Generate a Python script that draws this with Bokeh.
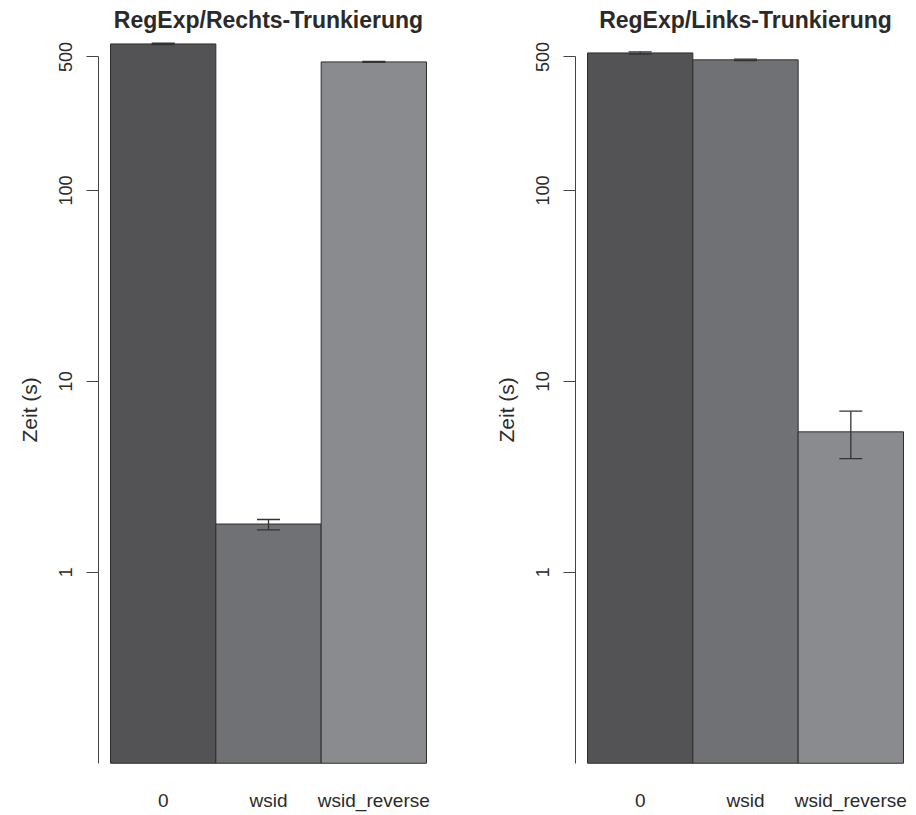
from bokeh.plotting import figure
from bokeh.layouts import row
from bokeh.models import (ColumnDataSource, FixedTicker, BasicTickFormatter,
                          Range1d, FactorRange, Whisker, TeeHead, Title)
from bokeh.embed import file_html
from bokeh.resources import INLINE

# Categories shared by both panels
categories = ["0", "wsid", "wsid_reverse"]

# Rechts-Trunkierung: mean time and error range (seconds)
rechts_mean = [585.0, 1.79, 471.0]
rechts_lower = [581.0, 1.67, 468.0]
rechts_upper = [590.0, 1.89, 474.0]

# Links-Trunkierung: mean time and error range (seconds)
links_mean = [525.0, 483.0, 5.44]
links_lower = [518.0, 479.0, 3.94]
links_upper = [532.0, 487.0, 6.99]

y_ticks = [1, 10, 100, 500]
y_label = "Zeit (s)"

bar_colors = ["#535355", "#707174", "#8a8b8e"]
FONT = "Liberation Sans"
TEXT = "#2a2a2a"


def panel(title, means, lower, upper, width, border_right):
    src = ColumnDataSource(dict(cat=categories, mean=means, lower=lower,
                                upper=upper, color=bar_colors))
    p = figure(
        width=width, height=815,
        x_range=FactorRange(factors=categories, range_padding=0.114,
                            range_padding_units="absolute"),
        y_range=Range1d(0.0985, 640),
        y_axis_type="log",
        output_backend="svg", toolbar_location=None,
        min_border_left=98, min_border_right=border_right,
        min_border_top=35, min_border_bottom=51,
    )
    p.vbar(x="cat", width=1.0, bottom=0.1, top="mean", source=src,
           fill_color="color", line_color="#2e2e2e", line_width=1)

    p.add_layout(Whisker(source=src, base="cat", lower="lower", upper="upper",
                         level="overlay",
                         line_color="#333333", line_width=1.3,
                         upper_head=TeeHead(size=23, line_color="#333333", line_width=1.3),
                         lower_head=TeeHead(size=23, line_color="#333333", line_width=1.3)))

    p.title.text = title
    p.title.align = "center"
    p.title.text_font = FONT
    p.title.text_font_size = "23px"
    p.title.text_font_style = "bold"
    p.title.text_color = TEXT
    p.title.standoff = 8

    p.xgrid.visible = False
    p.ygrid.visible = False
    p.outline_line_color = None

    yax = p.yaxis[0]
    yax.ticker = FixedTicker(ticks=y_ticks)
    yax.formatter = BasicTickFormatter()
    yax.bounds = (0.1, 500)
    yax.minor_tick_line_color = None
    yax.major_tick_out = 12
    yax.major_tick_in = 0
    yax.axis_line_color = "#444444"
    yax.major_tick_line_color = "#444444"
    yax.major_label_orientation = "parallel"
    yax.major_label_standoff = 14
    yax.major_label_text_font = FONT
    yax.major_label_text_font_size = "18px"
    yax.major_label_text_color = TEXT

    # y-axis title as a side title, so it can be centred on the axis line (0.1 .. 500)
    p.add_layout(Title(text=y_label, align="left", offset=322, standoff=28,
                       vertical_align="top",
                       text_font=FONT, text_font_size="21px",
                       text_font_style="normal", text_color=TEXT), "left")

    xax = p.xaxis[0]
    xax.axis_line_color = None
    xax.major_tick_line_color = None
    xax.minor_tick_line_color = None
    xax.major_tick_out = 0
    xax.major_tick_in = 0
    xax.major_label_standoff = 25
    xax.major_label_text_font = FONT
    xax.major_label_text_font_size = "19px"
    xax.major_label_text_color = TEXT
    return p


p1 = panel("RegExp/Rechts-Trunkierung", rechts_mean, rechts_lower, rechts_upper, 477, 39)
p2 = panel("RegExp/Links-Trunkierung", links_mean, links_lower, links_upper, 439, 1)

layout = row(p1, p2)
open("out.html", "w").write(file_html(layout, INLINE))
